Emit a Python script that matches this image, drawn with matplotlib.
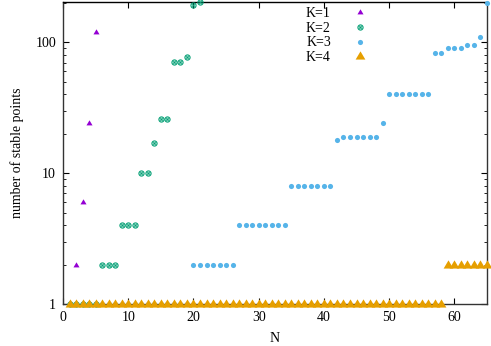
import matplotlib
matplotlib.use("Agg")
import matplotlib.pyplot as plt
from matplotlib.path import Path
from matplotlib.ticker import LogLocator, NullFormatter, FixedLocator, FixedFormatter

plt.rcParams['font.family'] = ['Liberation Serif', 'DejaVu Serif']

# K=1
k1_n = [1, 2, 3, 4, 5]
k1_v = [1, 2, 6, 24, 120]
# K=2
k2_n = list(range(1, 22))
k2_v = [1, 1, 1, 1, 1, 2, 2, 2, 4, 4, 4, 10, 10, 17, 26, 26, 71, 71, 77, 193, 205]
# K=3
k3_n = list(range(1, 66))
k3_v = ([1] * 19 + [2] * 7 + [4] * 8 + [8] * 7 + [18] + [19] * 6 + [24]
        + [40] * 7 + [83, 83] + [91, 91, 91] + [95, 95] + [109] + [200])
# K=4
k4_n = list(range(1, 66))
k4_v = [1] * 58 + [2] * 7

labels = ["K=1", "K=2", "K=3", "K=4"]
colors = ["#9400d3", "#009e73", "#56b4e9", "#e69f00"]

circ = Path.unit_circle()
cross = Path([(-0.45, -0.45), (0.45, 0.45), (-0.45, 0.45), (0.45, -0.45)],
             [Path.MOVETO, Path.LINETO, Path.MOVETO, Path.LINETO])
circ_x = Path.make_compound_path(circ, cross)
tri = Path([(0, 1.0), (-0.95, -0.6), (0.95, -0.6), (0, 1.0)],
           [Path.MOVETO, Path.LINETO, Path.LINETO, Path.CLOSEPOLY])

fig = plt.figure(figsize=(4.91, 3.46), dpi=100)
ax = fig.add_axes([63 / 491, 42 / 346, 424 / 491, 302.5 / 346])

ax.plot(k1_n, k1_v, linestyle='none', marker=tri, ms=4.6, color=colors[0],
        mec='none', label=labels[0], clip_on=False, zorder=3)
ax.plot(k2_n, k2_v, linestyle='none', marker=circ_x, ms=3.7, mfc='none',
        mec=colors[1], mew=0.8, label=labels[1], clip_on=False, zorder=3)
ax.plot(k3_n, k3_v, linestyle='none', marker='o', ms=3.7, color=colors[2],
        mec='none', label=labels[2], clip_on=False, zorder=3)
ax.plot(k4_n, k4_v, linestyle='none', marker=tri, ms=7.4, color=colors[3],
        mec='none', label=labels[3], clip_on=False, zorder=4)

ax.set_xlim(0, 65)
ax.set_yscale('log')
ax.set_ylim(1, 205)

ax.set_xticks([0, 10, 20, 30, 40, 50, 60])
ax.yaxis.set_major_locator(FixedLocator([1, 10, 100]))
ax.yaxis.set_major_formatter(FixedFormatter(["1", "10", "100"]))
ax.yaxis.set_minor_locator(LogLocator(base=10, subs=range(2, 10)))
ax.yaxis.set_minor_formatter(NullFormatter())

ax.tick_params(axis='both', which='both', direction='in', top=True, right=True,
               labelsize=10)
ax.tick_params(which='major', length=4, width=0.8)
ax.tick_params(which='minor', length=2.2, width=0.6)
ax.tick_params(axis='x', pad=5)
ax.tick_params(axis='y', pad=5)

for s in ax.spines.values():
    s.set_linewidth(1.0)
    s.set_color('#333333')
ax.spines['top'].set_color('black')

ax.set_xlabel("N", fontsize=10, labelpad=6)
ax.set_ylabel("number of stable points", fontsize=10, labelpad=8)

leg = ax.legend(loc='upper left', bbox_to_anchor=(0.56, 1.0), frameon=False,
                markerfirst=False, fontsize=10, handlelength=1.0,
                handletextpad=1.6, labelspacing=0.12, borderaxespad=0.0)

fig.savefig("out.png", dpi=100)
